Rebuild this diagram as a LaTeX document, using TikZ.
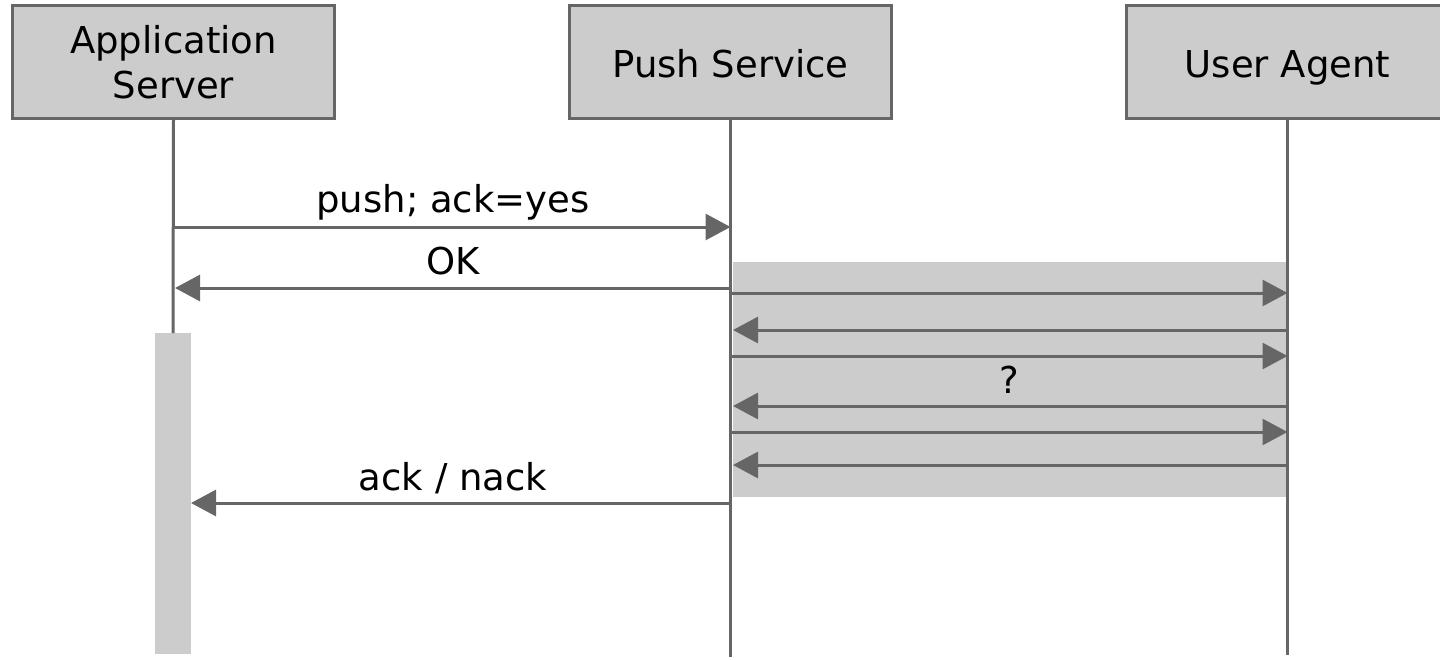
\documentclass[tikz,border=0pt]{standalone}
\usepackage{fontspec}
\setmainfont{DejaVu Sans}
\usetikzlibrary{arrows.meta}
\definecolor{ln}{HTML}{666666}
\definecolor{fl}{HTML}{CCCCCC}
\begin{document}
\begin{tikzpicture}[x=1pt,y=-1pt,
  actor/.style={draw=ln, line width=3pt, fill=fl, minimum width=322pt, minimum height=113pt, align=center, font=\fontsize{37}{45}\selectfont, inner sep=0pt},
  oneline/.style={text height=30pt, text depth=0pt},
  life/.style={draw=ln, line width=3pt},
  msg/.style={draw=ln, line width=3pt, -{Triangle[length=25pt,width=26pt]}},
  lbl/.style={font=\fontsize{37}{45}\selectfont, anchor=base, inner sep=0pt},
  shade/.style={fill=fl, draw=none}]
\useasboundingbox (0,0) rectangle (1440,659);
\clip (0,0) rectangle (1440,659);
% actors
\node[actor] (as) at (173.5,62) {Application\\Server};
\node[actor, oneline] (ps) at (730.5,62) {Push Service};
\node[actor, oneline] (ua) at (1287.5,62) {User Agent};
% shaded areas
\fill[shade] (733,262) rectangle (1286,497);
\node[shade, minimum width=36pt, minimum height=321pt, inner sep=0pt, outer sep=0pt] (act) at (173,493.5) {};
% lifeline ends
\coordinate (psend) at (730.5,657);
\coordinate (uaend) at (1287.5,655);
\draw[life] (as.south) -- (act.north);
\draw[life] (ps.south) -- (psend);
\draw[life] (ua.south) -- (uaend);
% message points
\coordinate (a1) at (173.5,227); \coordinate (p1) at (730.5,227);
\coordinate (p2) at (730.5,288); \coordinate (a2) at (175,288);
\coordinate (p3) at (730.5,293); \coordinate (u3) at (1287.5,293);
\coordinate (u4) at (1287.5,330); \coordinate (p4) at (733,330);
\coordinate (p5) at (730.5,356); \coordinate (u5) at (1287.5,356);
\coordinate (u6) at (1287.5,406); \coordinate (p6) at (733,406);
\coordinate (p7) at (730.5,432); \coordinate (u7) at (1287.5,432);
\coordinate (u8) at (1287.5,465); \coordinate (p8) at (733,465);
\coordinate (p9) at (730.5,503);
\draw[msg] (a1) -- (p1);
\draw[msg] (p2) -- (a2);
\draw[msg] (p3) -- (u3);
\draw[msg] (u4) -- (p4);
\draw[msg] (p5) -- (u5);
\draw[msg] (u6) -- (p6);
\draw[msg] (p7) -- (u7);
\draw[msg] (u8) -- (p8);
\draw[msg] (p9) -- (act.east |- p9);
% labels
\node[lbl] (l1) at (453,212) {push; ack=yes};
\node[lbl] (l2) at (453,274) {OK};
\node[lbl] (l3) at (1009,393) {?};
\node[lbl] (l4) at (453,490) {ack / nack};
\end{tikzpicture}
\end{document}
